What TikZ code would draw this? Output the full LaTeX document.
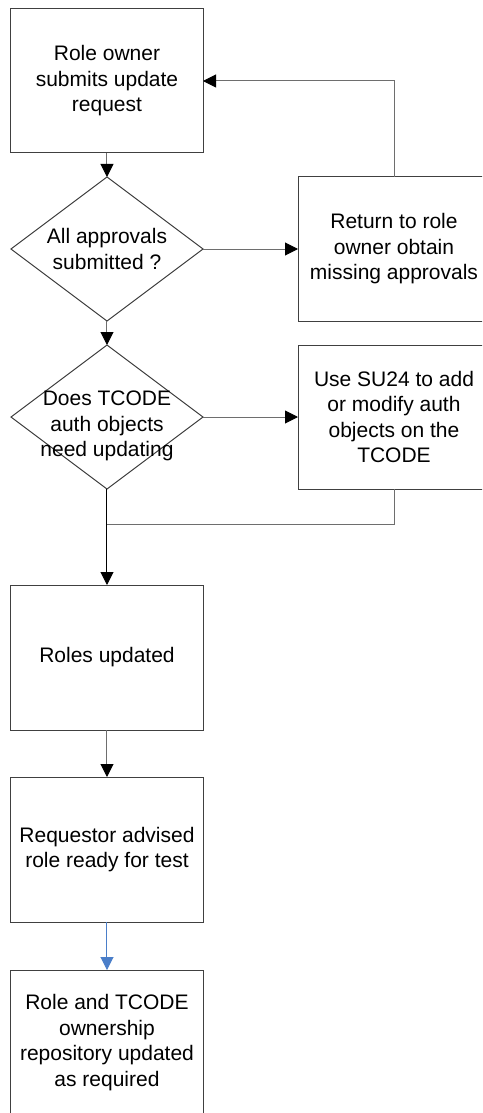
\documentclass[tikz,border=0pt]{standalone}
\usepackage{fontspec}
\setmainfont{Liberation Sans}
\usetikzlibrary{positioning,shapes.geometric,arrows.meta}
\definecolor{ln}{RGB}{110,110,110}
\definecolor{bl}{RGB}{74,126,201}

\begin{document}
\begin{tikzpicture}[%
  font=\fontsize{21}{25.5}\selectfont,%
  box/.style={draw=black!75,line width=1pt,minimum width=192pt,minimum height=144pt,align=center,inner sep=0pt,outer sep=0pt},%
  dec/.style={draw=black!75,line width=1pt,diamond,minimum width=192pt,minimum height=144pt,inner sep=0pt,outer sep=0pt},%
  arr/.style={draw=ln,line width=1pt,-{Triangle[width=13pt,length=13pt,color=black]}},%
  lin/.style={draw=ln,line width=1pt}%
  ]
  \node (req) [box] {Role owner\\submits update\\request};
  \path[use as bounding box,clip] ([shift={(-11pt,9pt)}]req.north west) rectangle ++(482pt,-1113pt);
%
  \node (appr) [dec,below=24pt of req,label={[align=center]center:All approvals\\submitted ?}] {};
  \node (ret)  [box,right=95pt of appr] {Return to role\\owner obtain\\missing approvals};
%
  \node (upd)  [dec,below=24pt of appr,label={[align=center,yshift=-9pt]center:Does TCODE\\auth objects\\need updating}] {};
  \node (su24) [box,right=95pt of upd] {Use SU24 to add\\or modify auth\\objects on the\\TCODE};
  \coordinate[below=35pt of upd.south] (mrg);
%
  \node (roles) [box,minimum height=145pt,below=96pt of upd] {Roles updated};
  \node (adv)   [box,minimum height=145pt,below=47pt of roles] {Requestor advised\\role ready for test};
  \node (repo)  [box,minimum height=145pt,below=48pt of adv] {Role and TCODE\\ownership\\repository updated\\as required};
%
  \draw[arr] (req) -- (appr);
  \draw[arr] (appr) -- (ret);
  \draw[arr] (ret.north) |- (req.east);
  \draw[arr] (appr) -- (upd);
  \draw[arr] (upd) -- (su24);
  \draw[lin] (su24.south) |- (mrg);
  \draw[arr,draw=black] (upd) -- (roles);
  \draw[arr] (roles) -- (adv);
  \draw[arr,draw=bl,-{Triangle[width=13pt,length=13pt,color=bl]}] (adv) -- (repo);
%
\end{tikzpicture}
\end{document}
